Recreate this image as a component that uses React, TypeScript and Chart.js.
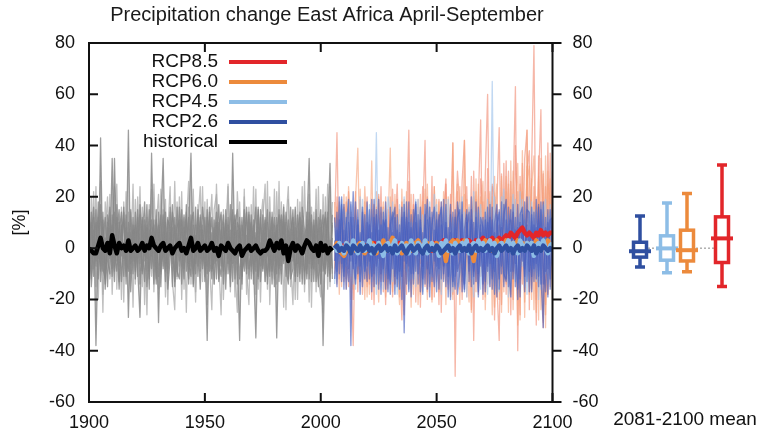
import React, { useEffect, useRef } from "react";
import { Chart, registerables } from "chart.js";
Chart.register(...registerables);

const TITLE = "Precipitation change East Africa April-September";
const Y_TITLE = "[%]";
const BOX_TITLE = "2081-2100 mean";
const X_MIN = 1900;
const X_MAX = 2100;
const Y_MIN = -60;
const Y_MAX = 80;
const HIST_START = 1900;
const FUT_START = 2006;

// historical ensemble members (1900-2005)
const h1 = [5,-8,12,-38,3,-6,14,-11,8,-4, 35,-9,6,15,-13,2,-7,46,-10,9, -5,12,-14,4,18,-9,7,-3,11,-12, 6,-15,10,2,-8,16,-6,9,-11,4, -3,13,-9,7,37,-14,5,-2,12,-8, 3,-36,14,-5,8,-12,10,1,-9,15, -4,7,-13,11,-2,-36,9,4,-10,13, -7,5,16,-11,2,-8,12,-3,7,-14, 9,-35,6,13,-5,10,-12,3,15,-7, 4,-10,11,-2,8,35,-13,6,-4,12, -9,5,14,-11,3,-8];
const h2 = [-6,10,-3,15,-12,43,-9,4,-15,11, 2,-13,17,-7,9,-4,13,-27,6,-10, 14,-8,-27,11,-5,9,-16,37,-2,7, -11,4,13,-9,6,-3,17,-12,2,10, -14,8,-1,12,-7,5,-10,15,-4,9, -13,6,11,-8,2,14,-6,-11,8,-2, 12,-9,37,-4,7,-12,3,15,-8,5, 10,-6,-35,8,-13,4,11,-2,-9,14, -5,12,-8,2,16,-11,7,-4,10,-13, 6,14,-7,3,-12,9,-5,11,-2,-15, 8,-38,4,12,-7,10];
const h3 = [2,-12,7,-5,18,-9,11,-14,4,16, -8,35,-5,10,-3,14,-11,6,-17,3, 9,-4,13,-10,6,-15,2,11,-7,15, -29,10,35,-6,12,-1,8,-13,16,-5, 11,-8,4,-12,9,14,-6,3,-16,7, -4,12,-9,6,-14,3,17,-7,10,-1, 5,-15,8,13,-6,9,-11,2,14,-8, -2,11,-9,15,-4,7,-13,10,-6,3, 12,-7,4,-14,9,2,-10,16,-5,8, -11,7,3,-9,14,-6,10,-13,5,2, 11,-6,-10,7,33,-12];
const h4 = [-9,4,16,-7,9,-13,3,12,-5,-10, 13,-2,-9,6,14,-11,8,2,-6,12, -12,7,3,-9,11,-4,15,-8,5,-14, 9,-6,-3,14,-10,6,2,-15,8,11, -7,3,14,-5,-11,9,-3,12,-9,16, 5,-10,3,12,-6,9,-13,7,-2,11, -10,4,-6,9,15,-3,12,-9,5,-12, 8,-14,6,-3,12,-9,2,15,-11,7, -4,9,-13,11,-6,14,3,-9,7,-2, 13,-5,9,-14,4,11,-8,-3,15,-6, 5,13,-8,3,-13,9];
const h5 = [14,-4,22,-15,8,26,-18,5,20,-12, -6,24,-16,10,-20,18,-9,14,-5,25, -14,20,-9,16,-22,12,-5,23,-17,8, 21,-10,15,-19,6,24,-13,-24,18,-7, 22,-16,9,26,-14,5,-21,17,-6,24, -11,19,-6,-24,15,21,-9,13,-20,6, 25,-12,10,-19,22,4,-16,20,-8,-22, 17,-6,23,-16,9,19,-13,26,-22,5, -12,22,-7,18,-23,10,24,-15,7,-20, 19,-8,24,-17,11,-21,16,-5,23,-12, -19,21,-7,25,-15,18];
const h6 = [-17,20,-8,24,-20,12,-25,18,-3,21, -18,9,25,-12,16,-21,22,-8,14,-23, 19,-6,24,-15,9,-26,17,-11,25,-4, -16,23,-7,19,-22,14,-9,26,-12,20, -20,12,-25,16,-4,23,-17,10,24,-13, 18,-22,6,21,-14,25,-5,-26,15,-10, 24,-17,14,-8,-25,18,-12,23,-18,16, -9,24,-18,13,-21,11,25,-16,20,-8, 23,-14,26,-10,17,-24,19,-6,-22,15, -20,18,-12,26,-8,21,-23,14,-17,24, -13,-25,20,-16,24,-10];
const h7 = [8,-15,1,10,-4,17,-8,-12,13,6, -11,14,4,-16,7,11,-3,-9,15,-5, 6,-11,17,2,-13,8,-9,4,-14,11, 3,13,-8,10,-16,-4,14,6,-9,-12, 15,-3,11,-14,6,-10,16,-7,13,2, -8,15,-4,-12,11,-5,8,14,-14,9, -6,17,-3,6,-14,12,-9,-5,16,-3, 13,-10,4,-12,15,-5,8,-14,3,12, -15,6,13,-4,10,-8,-14,7,12,-11, 2,-13,16,7,-10,14,-4,9,-13,6, 15,-9,-3,14,-10,4];
const h8 = [-3,14,-11,5,12,-7,8,-16,10,-1, 9,-7,12,-13,2,16,-14,10,-4,7, -9,15,-6,12,-3,17,-12,6,9,-8, 14,-9,6,-13,11,8,-15,12,-3,16, 4,-12,17,-6,13,-15,9,-11,7,-5, 12,-7,16,-9,-4,10,-12,5,13,-16, 9,-5,15,-12,10,7,-14,11,-6,14, -12,9,-5,16,-7,13,-4,-11,14,-9, 6,-10,15,-7,13,-3,11,-12,-8,16, -6,12,-14,5,9,-12,13,-8,11,-4, -14,8,12,-5,-6,13];
const histMean = [0,-1,-2,-2,1,4,0,-1,2,-2, 5,1,-2,2,0,1,-1,3,-1,0, 1,-1,0,2,-1,1,0,4,1,0, -1,1,2,-1,0,1,-2,0,1,2, -1,0,-2,1,4,-1,0,2,-1,0, 1,-1,0,2,-1,0,-3,1,0,-1, 2,0,-1,-2,0,1,-3,-1,0,1, -1,0,1,-1,-2,-1,-1,0,3,1, -1,2,0,3,-2,1,-5,0,2,-1, 1,0,-2,1,3,2,0,-1,1,-3, 2,-1,1,-2,0,-1];

// scenario ensemble members (2006-2100)
const r85a = [8,45,-12,15, -6,18,-15,10,-20,22,-8,13,-18,6, 20,-14,9,-22,16,-5,24,-17,11,-9, 14,-19,7,25,-12,18,-26,10,46,-14, 21,-8,16,-23,12,42,-17,9,-20,24, -11,19,-25,13,27,-16,8,41,-50,22, -12,26,42,-19,15,-24,30,-13,18,50, -20,28,60,-15,24,-28,17,47,-22,33, -18,30,-26,21,63,-40,28,-14,35,46, -24,32,79,-20,27,54,-31,24,-18,37, -12];
const r85b = [-10,20,-6,12, 16,-12,22,-8,-38,9,-17,19,-4,14, -15,11,-20,17,-6,21,-13,8,-22,15, -9,23,-14,19,-4,-28,12,-18,26,-7, 17,-21,11,-6,24,-15,20,-10,28,-19, 13,-22,18,-7,25,-13,21,-18,9,30, 16,-20,11,24,-10,28,-36,19,-7,27, 14,-16,31,-9,25,20,-14,-36,29,-8, 34,-12,26,-20,40,10,-26,33,-9,30, 38,-16,24,-30,36,-8,29,-22,41,-6, 30];
const r60a = [12,-14,18,-8, 10,-16,24,6,-12,19,39,-10,15,-20, 11,-7,34,-15,8,20,-12,16,-19,7, 39,-11,17,-6,-22,13,-16,22,-9,15, -18,12,-5,21,-14,9,-20,16,-3,24, -12,18,-8,14,-22,20,-6,12,-14,25, -16,10,21,-11,17,-25,9,22,-18,14, 26,-19,12,-7,20,-23,15,-10,28,-17, 22,-25,34,-13,18,-30,25,16,-21,32, -18,27,-24,20,-28,35,14,-26,30,-15, 22];
const r60b = [-8,16,-18,11, -13,20,-5,14,-16,8,-11,23,-6,18, -19,13,-9,17,-3,-21,14,-8,20,-13, 8,-17,21,-10,15,-6,19,-14,9,-23, 13,-6,19,-18,10,23,-13,7,-21,17, -9,14,-17,22,-5,12,-19,41,-7,16, -22,14,-9,19,-14,8,20,-17,25,-11, 18,-24,13,22,-11,28,-19,9,-25,20, -14,25,-18,30,-10,22,-28,38,-16,26, 32,-20,18,-25,28,-12,-29,36,-18,27, -20];
const r60c = [18,-5,9,-15, 21,-8,14,-20,6,16,-12,9,-7,24, 5,-18,15,-10,22,-14,7,18,-11,-16, 20,-4,-14,16,-19,23,-8,10,-13,21, -7,16,-22,9,18,-10,25,-15,12,-6, 19,-17,11,-12,20,-9,16,-20,13,-8, 24,-13,42,-6,-21,15,-10,27,-14,20, -9,22,-14,18,-26,12,25,-20,16,-13, 28,-10,20,-24,15,33,-14,22,-27,46, -10,24,36,-16,21,-24,30,-31,25,19, -14];
const r45a = [10,-12,6,19, -9,14,-4,17,-14,11,-7,20,-12,5, 16,-10,12,-6,45,-13,9,-16,14,-5, -11,18,-8,12,-16,7,20,-9,15,-12, 10,-15,19,-4,13,-10,17,-14,6,21, -13,8,-18,16,-7,19,-11,12,-15,9, 18,-6,14,-19,10,-12,22,-8,15,-16, 11,-9,19,-14,65,-17,13,-6,20,-11, 16,-19,9,21,-13,12,-8,19,-15,7, -12,18,-9,14,-20,11,17,-10,13,-6, 15];
const r45b = [-14,8,-5,13, 15,-7,18,-11,9,-16,12,-3,19,-9, -6,17,-13,8,-18,11,-4,15,-10,20, 14,-13,5,-18,17,-9,13,-6,-16,10, -12,19,-7,15,-17,8,-5,18,-11,13, 17,-10,14,-6,19,-14,10,-17,8,-4, -15,20,-11,9,16,-7,-19,14,-9,17, -6,15,-18,11,-8,20,-14,-17,12,23, -10,13,-16,8,19,-14,22,-7,11,-18, 20,-8,15,-13,9,-16,12,19,-14,17, -9];
const r26a = [-5,14,-10,17, -11,8,19,-38,12,-6,15,-13,7,-9, 18,-12,6,-15,13,-4,16,-8,11,-17, 9,14,-11,7,-16,12,-33,18,-7,13, -14,10,-3,16,-12,7,19,-10,14,-5, 11,-16,9,-7,17,-11,6,-13,15,-9, -5,18,-14,10,-9,15,-11,7,-17,12, 8,-13,16,-6,11,-18,9,14,-10,17, -12,6,15,-9,12,-16,10,-5,18,-13, 7,-11,14,-6,17,-10,-31,12,-8,15, -7];
const r26b = [12,-9,20,-13, 7,-16,10,-5,22,-12,9,-18,14,-3, -13,9,-17,12,-7,19,-10,14,-16,8, -18,11,16,-12,9,-20,14,-6,18,-10, 15,-9,13,-17,6,-14,11,-19,9,16, -7,13,-12,19,-15,8,-20,14,-11,18, 10,-17,7,15,-13,20,-9,12,-19,6, -14,11,-9,17,-12,6,-19,15,-7,13, 19,-15,11,-12,7,-20,13,16,-11,9, -17,13,-8,19,-11,15,-14,8,-19,11, 12];
const r26c = [3,-15,11,-6, 17,-4,-13,12,-8,18,-10,6,-15,13, -7,15,-11,19,-14,7,-18,11,8,-12, 16,-8,12,-15,6,-11,17,-14,10,-19, 8,18,-10,11,-7,17,-16,12,-13,7, -17,11,16,-10,8,-19,13,-7,-16,12, 15,-8,-16,13,-6,11,-14,18,-10,9, -18,14,-7,12,-16,10,17,-12,8,-15, 11,-8,-19,14,-6,17,-12,9,-17,20, -9,16,-13,8,-15,18,-7,-17,10,-12, 16];
const r26d = [-12,7,-3,20, -16,12,-8,18,-5,-14,11,-7,16,-12, 10,-5,19,-10,15,-16,9,-13,18,-6, -14,6,-18,13,-9,16,-5,12,-17,8, -10,17,-14,8,-18,13,-8,16,-6,-15, 14,-8,18,-13,10,-6,17,-15,12,-18, -9,13,-17,8,14,-15,10,-13,16,-7, 12,-17,10,-15,16,-9,13,-16,18,-10, -13,16,-9,17,-15,8,-19,13,-8,15, 14,-17,9,-12,16,-14,18,-9,15,-16, 9];

// multi-model means (2006-2100)
const mean26 = [0,1,-1,0, -1,1,0,-2,1,0,-1,1,-1,0, 1,-1,0,-2,0,1,-1,0,1,-1, 0,-2,1,-1,0,1,-1,-2,0,1, -1,0,1,-1,-2,0,1,-1,0,-1, 1,0,-2,-1,0,1,-1,0,-2,0, 1,-1,0,-1,1,-2,0,1,-1,0, -1,0,1,-1,0,-2,0,1,-1,0, 1,-1,0,-2,0,1,-1,0,-1,1, 0,-1,1,-2,0,-1,1,0,-1,0, -1];
const mean45 = [1,-1,2,0, -2,2,1,-1,3,0,-2,1,2,-1, 0,3,-2,1,-1,2,0,-3,1,2, -1,1,3,-2,0,2,-1,1,-2,3, 0,-2,2,1,-1,3,-2,0,2,-1, 1,-3,2,0,3,-1,1,-2,2,0, -1,2,0,3,-2,1,2,-1,3,0, 2,-1,1,3,0,2,-3,1,2,0, 1,3,-1,2,0,-2,3,1,-1,2, 0,2,-3,1,2,-1,3,0,-2,1, 2];
const mean60 = [0,2,-1,-2, -3,-1,1,0,2,-1,1,2,0,-2, 1,-1,2,0,-2,1,0,3,-1,1, 2,4,0,-1,1,-2,0,2,1,-1, 0,2,3,1,-1,0,2,-1,1,0, 2,-1,0,1,-5,0,2,3,1,3, 2,0,3,1,-1,0,-5,1,2,0, 1,3,0,2,-1,1,3,0,2,1, 3,1,0,2,1,3,0,2,1,2, 0,2,1,3,1,0,2,1,3,1, 2];
const mean85 = [1,0,-1,1, 0,2,1,-1,0,1,-1,2,0,1, -1,1,0,2,-1,0,1,-1,1,2, 0,-1,1,0,2,-1,1,0,-1,1, 2,0,1,-1,1,2,0,1,-1,2, 1,0,2,3,1,0,2,1,3,2, 1,3,2,1,3,2,1,3,2,3, 4,2,3,3,4,2,3,4,3,4, 5,4,6,5,4,6,7,8,6,5, 6,5,4,6,5,7,5,6,5,6, 6];

// 2081-2100 mean box plots
const boxLabels = ["RCP2.6", "RCP4.5", "RCP6.0", "RCP8.5"];
const boxMin = [-7.4, -9.6, -9.2, -15];
const boxQ1 = [-3.5, -4.7, -5, -5.6];
const boxMean = [-1.2, -0.1, -0.8, 3.8];
const boxQ3 = [2.3, 4.8, 7, 12.2];
const boxMax = [12.5, 17.6, 21.3, 32.4];
const boxSlot = [2, 3.35, 4.35, 6.1];

const legendLabels = ["RCP8.5", "RCP6.0", "RCP4.5", "RCP2.6", "historical"];

const C85 = "#e2262a";
const C60 = "#ec8a3c";
const C45 = "#8dbde6";
const C26 = "#2f4fa0";
const CH = "#000000";
const legendColors = [C85, C60, C45, C26, CH];
const boxColors = [C26, C45, C60, C85];

const FONT = "'Liberation Sans', Arial, Helvetica, sans-serif";
Chart.defaults.font.family = FONT;

const toXY = (start: number, arr: number[]) => arr.map((v, i) => ({ x: start + i, y: v }));

const line = (data: any, color: string, width: number, fillTo?: string) => ({
  type: "line" as const,
  data,
  borderColor: color,
  borderWidth: width,
  pointRadius: 0,
  tension: 0,
  fill: fillTo ? "+1" : false,
  backgroundColor: fillTo || "transparent",
  borderJoinStyle: "round" as const,
});

const framePlugin = {
  id: "frame",
  afterDraw(chart: any) {
    const { ctx, chartArea: a, scales } = chart;
    const x = scales.x;
    const y = scales.y;
    ctx.save();
    ctx.strokeStyle = "#111";
    ctx.lineWidth = 2;
    ctx.strokeRect(a.left, a.top, a.right - a.left, a.bottom - a.top);
    const tl = 9;
    ctx.beginPath();
    y.ticks.forEach((t: any) => {
      const py = y.getPixelForValue(t.value);
      ctx.moveTo(a.left, py);
      ctx.lineTo(a.left + tl, py);
      ctx.moveTo(a.right, py);
      ctx.lineTo(a.right + tl, py);
    });
    x.ticks.forEach((t: any) => {
      const px = x.getPixelForValue(t.value);
      ctx.moveTo(px, a.bottom);
      ctx.lineTo(px, a.bottom - tl);
      ctx.moveTo(px, a.top);
      ctx.lineTo(px, a.top + tl);
    });
    ctx.stroke();
    // title
    ctx.fillStyle = "#1a1a1a";
    ctx.font = `20px ${FONT}`;
    ctx.textAlign = "center";
    ctx.textBaseline = "middle";
    ctx.fillText(TITLE, 327, 15);
    // legend
    ctx.font = `19px ${FONT}`;
    ctx.textAlign = "right";
    legendLabels.forEach((lab, i) => {
      const ly = 62 + i * 20;
      ctx.fillStyle = "#111";
      ctx.fillText(lab, 218, ly);
      ctx.strokeStyle = legendColors[i];
      ctx.lineWidth = 4;
      ctx.beginPath();
      ctx.moveTo(229, ly);
      ctx.lineTo(287, ly);
      ctx.stroke();
    });
    ctx.restore();
  },
};

const boxPlugin = {
  id: "boxes",
  afterDraw(chart: any) {
    const { ctx, scales } = chart;
    const x = scales.x;
    const y = scales.y;
    ctx.save();
    ctx.strokeStyle = "#888";
    ctx.lineWidth = 1;
    ctx.setLineDash([2, 2]);
    ctx.beginPath();
    ctx.moveTo(x.getPixelForValue(boxSlot[0]), y.getPixelForValue(0));
    ctx.lineTo(x.getPixelForValue(boxSlot[3]), y.getPixelForValue(0));
    ctx.stroke();
    ctx.setLineDash([]);
    boxLabels.forEach((_, i) => {
      const cx = x.getPixelForValue(boxSlot[i]);
      const yMin = y.getPixelForValue(boxMin[i]);
      const yQ1 = y.getPixelForValue(boxQ1[i]);
      const yMean = y.getPixelForValue(boxMean[i]);
      const yQ3 = y.getPixelForValue(boxQ3[i]);
      const yMax = y.getPixelForValue(boxMax[i]);
      ctx.strokeStyle = boxColors[i];
      ctx.lineWidth = 3.5;
      ctx.beginPath();
      ctx.moveTo(cx, yMax);
      ctx.lineTo(cx, yQ3);
      ctx.moveTo(cx, yQ1);
      ctx.lineTo(cx, yMin);
      ctx.moveTo(cx - 5, yMax);
      ctx.lineTo(cx + 5, yMax);
      ctx.moveTo(cx - 5, yMin);
      ctx.lineTo(cx + 5, yMin);
      ctx.stroke();
      ctx.fillStyle = "#fff";
      ctx.fillRect(cx - 6.5, yQ3, 13, yQ1 - yQ3);
      ctx.strokeRect(cx - 6.5, yQ3, 13, yQ1 - yQ3);
      ctx.lineWidth = 4;
      ctx.beginPath();
      ctx.moveTo(cx - 11, yMean);
      ctx.lineTo(cx + 11, yMean);
      ctx.stroke();
    });
    ctx.fillStyle = "#111";
    ctx.font = `19px ${FONT}`;
    ctx.textAlign = "center";
    ctx.textBaseline = "middle";
    ctx.fillText(BOX_TITLE, 685, 420);
    ctx.restore();
  },
};

export default function App() {
  const mainRef = useRef<HTMLCanvasElement>(null);
  const boxRef = useRef<HTMLCanvasElement>(null);

  useEffect(() => {
    const grayDark = "rgba(135,135,135,0.8)";
    const grayLight = "rgba(170,170,170,0.75)";
    const grayFill = "rgba(140,140,140,0.45)";
    const m85 = "rgba(240,135,110,0.6)";
    const m60 = "rgba(245,160,120,0.6)";
    const m45 = "rgba(160,195,235,0.65)";
    const m26 = "rgba(72,95,190,0.6)";
    const blueFill = "rgba(80,105,200,0.4)";
    // listed bottom to top
    const layers: any[] = [
      line(toXY(HIST_START, h5), grayLight, 1.3),
      line(toXY(HIST_START, h6), grayLight, 1.3),
      line(toXY(HIST_START, h1), grayDark, 1.3, grayFill),
      line(toXY(HIST_START, h2), grayDark, 1.3),
      line(toXY(HIST_START, h3), grayDark, 1.3, grayFill),
      line(toXY(HIST_START, h4), grayDark, 1.3),
      line(toXY(HIST_START, h7), grayDark, 1.3, grayFill),
      line(toXY(HIST_START, h8), grayDark, 1.3),
      line(toXY(FUT_START, r85a), m85, 1.3),
      line(toXY(FUT_START, r85b), m85, 1.3),
      line(toXY(FUT_START, r60a), m60, 1.3),
      line(toXY(FUT_START, r60b), m60, 1.3),
      line(toXY(FUT_START, r60c), m60, 1.3),
      line(toXY(FUT_START, r45a), m45, 1.3),
      line(toXY(FUT_START, r45b), m45, 1.3),
      line(toXY(FUT_START, r26a), m26, 1.4, blueFill),
      line(toXY(FUT_START, r26b), m26, 1.4),
      line(toXY(FUT_START, r26c), m26, 1.4, blueFill),
      line(toXY(FUT_START, r26d), m26, 1.4),
      line(toXY(FUT_START, mean85), C85, 4.5),
      line(toXY(FUT_START, mean60), C60, 4.5),
      line(toXY(FUT_START, mean45), C45, 4.5),
      line(toXY(FUT_START, mean26), C26, 4.5),
      line(toXY(HIST_START, histMean), CH, 4.5),
    ];
    const n = layers.length;
    layers.forEach((d, i) => (d.order = n - i));

    const tickFont = { size: 18, family: FONT };
    const main = new Chart(mainRef.current!, {
      type: "line",
      data: { datasets: layers },
      options: {
        responsive: false,
        animation: false,
        devicePixelRatio: 1,
        layout: { padding: { top: 43, left: 0, right: 0, bottom: 0 } },
        plugins: {
          legend: { display: false },
          tooltip: { enabled: false },
          title: { display: false },
          filler: { propagate: false },
        },
        scales: {
          x: {
            type: "linear",
            min: X_MIN,
            max: X_MAX,
            grid: { display: false },
            border: { display: false },
            ticks: {
              stepSize: 50,
              autoSkip: false,
              maxRotation: 0,
              font: tickFont,
              color: "#111",
              padding: 2,
              callback: (v: any) => String(v),
            },
            afterFit: (s: any) => {
              s.height = 32;
            },
          },
          y: {
            position: "left",
            min: Y_MIN,
            max: Y_MAX,
            grid: { display: false },
            border: { display: false },
            ticks: { stepSize: 20, font: tickFont, color: "#111", padding: 6 },
            title: { display: true, text: Y_TITLE, font: tickFont, color: "#111", padding: { top: 9, bottom: 0 } },
            afterFit: (s: any) => {
              s.width = 89;
            },
          },
          y2: {
            position: "right",
            min: Y_MIN,
            max: Y_MAX,
            grid: { display: false },
            border: { display: false },
            ticks: { stepSize: 20, font: tickFont, color: "#111", padding: 12 },
            afterFit: (s: any) => {
              s.width = 207.5;
            },
          },
        },
      },
      plugins: [framePlugin],
    });

    const box = new Chart(boxRef.current!, {
      type: "scatter",
      data: {
        datasets: [
          {
            data: boxSlot.map((s, i) => ({ x: s, y: boxMean[i] })),
            pointRadius: 0,
          },
        ],
      },
      options: {
        responsive: false,
        animation: false,
        devicePixelRatio: 1,
        layout: { padding: { top: 43, left: 600, right: 0, bottom: 32 } },
        plugins: { legend: { display: false }, tooltip: { enabled: false } },
        scales: {
          x: { type: "linear", min: 0, max: 8, display: false },
          y: { min: Y_MIN, max: Y_MAX, display: false },
        },
      },
      plugins: [boxPlugin],
    });

    return () => {
      main.destroy();
      box.destroy();
    };
  }, []);

  return (
    <div style={{ position: "fixed", left: 0, top: 0, width: 760, height: 434, background: "#fff" }}>
      <canvas ref={mainRef} width={760} height={434} style={{ position: "absolute", left: 0, top: 0 }} />
      <canvas
        ref={boxRef}
        width={760}
        height={434}
        style={{ position: "absolute", left: 0, top: 0, pointerEvents: "none" }}
      />
    </div>
  );
}
